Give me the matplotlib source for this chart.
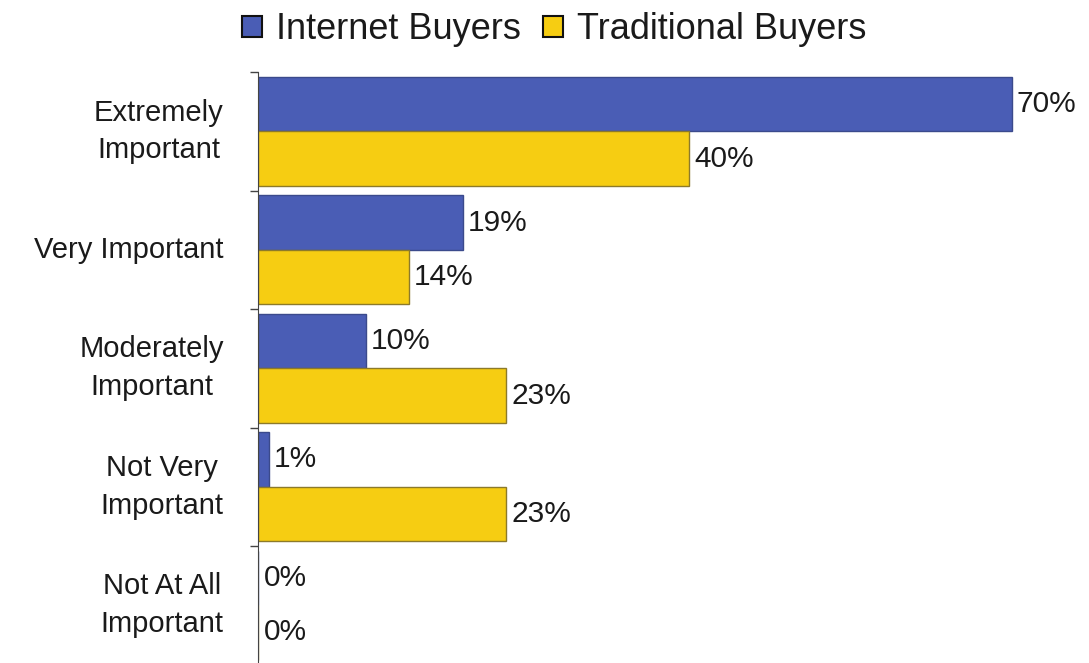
import matplotlib
matplotlib.use('Agg')
import numpy as np
import matplotlib.pyplot as plt

plt.rcParams['font.family'] = ['Liberation Sans', 'DejaVu Sans']

# Survey data
categories = ['Extremely\nImportant', 'Very Important', 'Moderately\nImportant',
              'Not Very\nImportant', 'Not At All\nImportant']
internet = [70, 19, 10, 1, 0]
traditional = [40, 14, 23, 23, 0]
series_names = ['Internet Buyers', 'Traditional Buyers']

blue = '#4a5db5'
yellow = '#f6cd12'
txt = '#1a1a1a'

fig = plt.figure(figsize=(10.89, 6.63), dpi=100)
ax = fig.add_axes([0.237, -0.002, 0.763, 0.893])

y = np.arange(len(categories))
h = 0.46
b1 = ax.barh(y - h / 2, internet, height=h, color=blue, edgecolor='#3b4a8c', linewidth=1)
b2 = ax.barh(y + h / 2, traditional, height=h, color=yellow, edgecolor='#8c7a2a', linewidth=1)

for bars, vals in ((b1, internet), (b2, traditional)):
    for bar, v in zip(bars, vals):
        ax.text(v + 0.5, bar.get_y() + bar.get_height() / 2, '%d%%' % v,
                va='center', ha='left', fontsize=21.5, color=txt)

ax.set_xlim(0, 77.2)
ax.set_ylim(len(categories) - 0.5, -0.5)

# category boundaries as tick marks, labels in the middle
ax.set_yticks(np.arange(len(categories) + 1) - 0.5)
ax.set_yticklabels([])
ax.tick_params(axis='y', length=6, width=1, color='#444444')
for i, c in enumerate(categories):
    ax.text(-3.2, i, c, ha='right', va='center', multialignment='center',
            fontsize=21, color=txt, linespacing=1.45)

ax.set_xticks([])
for s in ['top', 'right', 'bottom']:
    ax.spines[s].set_visible(False)
ax.spines['left'].set_color('#444444')

leg = fig.legend([b1, b2], series_names, loc='center', bbox_to_anchor=(0.509, 0.955),
                 ncol=2, frameon=False, fontsize=26, handlelength=0.55, handleheight=0.55,
                 handletextpad=0.4, columnspacing=0.6, labelcolor=txt)
for p in leg.legend_handles:
    p.set_edgecolor('#111111')
    p.set_linewidth(1.5)

fig.savefig('out.png', dpi=100)
